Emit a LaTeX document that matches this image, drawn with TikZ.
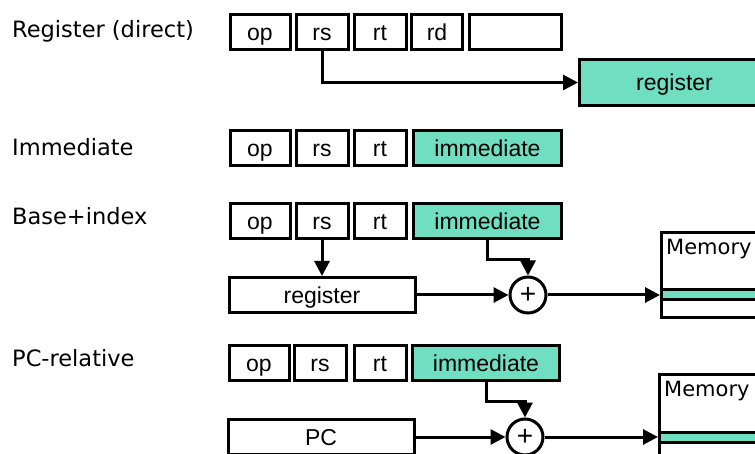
\documentclass[tikz,border=0pt]{standalone}
\usepackage{fontspec}
\usepackage{tikz}
\usetikzlibrary{arrows.meta}
\newfontfamily\arialfont{Liberation Sans}
\newfontfamily\handfont{DejaVu Sans}
\definecolor{aqua}{RGB}{112,222,192}
\tikzset{
	fld/.style={draw, line width=3pt, minimum height=35pt, inner sep=0pt, text height=19pt, text depth=2pt, font=\arialfont\fontsize{23}{26}\selectfont},
	hfld/.style={fld, fill=aqua},
	lbl/.style={anchor=west, inner sep=0pt, font=\handfont\fontsize{22.5}{26}\selectfont},
	memlbl/.style={lbl, font=\handfont\fontsize{21}{24}\selectfont},
	wire/.style={line width=3pt, -{Triangle[length=15pt,width=15pt]}},
	adder/.style={draw, circle, line width=3pt, minimum size=36pt, inner sep=0pt, font=\arialfont\fontsize{28}{30}\selectfont},
	membox/.style={draw, line width=3pt, anchor=north west, minimum width=140pt, minimum height=85pt, inner sep=0pt},
	slot/.style={draw, fill=aqua, line width=3pt, anchor=west, minimum width=140pt, minimum height=10pt, inner sep=0pt},
}
\begin{document}
\begin{tikzpicture}[x=1pt, y=-1pt]
				\clip (0,0) rectangle (755,454);
				% register (direct)
				\node[lbl] (l1) at (12,31) {Register (direct)};
				\node[fld, minimum width=60pt] (op1) at (260,32) {op};
				\node[fld, minimum width=52pt] (rs1) at (322,32) {rs};
				\node[fld, minimum width=52pt] (rt1) at (380,32) {rt};
				\node[fld, minimum width=51pt] (rd1) at (437,32) {rd};
				\node[fld, minimum width=92pt] (sh1) at (515.5,32) {};
				\node[hfld, anchor=west, minimum width=190pt, minimum height=46pt] (reg1) at (578,82.5) {register};
				\draw[wire] (rs1.south) |- (reg1.west);
				% immediate
				\node[lbl] (l2) at (12,147) {Immediate};
				\node[fld, minimum width=60pt] (op2) at (260,148.5) {op};
				\node[fld, minimum width=52pt] (rs2) at (322,148.5) {rs};
				\node[fld, minimum width=52pt] (rt2) at (380,148.5) {rt};
				\node[hfld, minimum width=148pt] (imm2) at (487.5,148.5) {immediate};
				% base+index
				\node[lbl] (l3) at (12,216) {Base+index};
				\node[fld, minimum width=60pt] (op3) at (260,221.5) {op};
				\node[fld, minimum width=52pt] (rs3) at (322,221.5) {rs};
				\node[fld, minimum width=52pt] (rt3) at (380,221.5) {rt};
				\node[hfld, minimum width=148pt] (imm3) at (487.5,221.5) {immediate};
				\node[fld, minimum width=186pt] (reg3) at (322,295) {register};
				\node[adder] (add3) at (528,295) {+};
				\node[membox] (mem3) at (660,231) {};
				\node[slot] (slot3) at (660,295) {};
				\node[memlbl] (m3) at (666,249) {Memory};
				\draw[wire] (rs3.south) -- (reg3.north);
				\draw[wire] (imm3.south) -- ++(0,19) -| (add3.north);
				\draw[wire] (reg3.east) -- (add3.west);
				\draw[wire] (add3.east) -- (slot3.west);
				% pc-relative
				\node[lbl] (l4) at (12,358) {PC-relative};
				\node[fld, minimum width=60pt] (op4) at (259,363) {op};
				\node[fld, minimum width=52pt] (rs4) at (320,363) {rs};
				\node[fld, minimum width=52pt] (rt4) at (380,363) {rt};
				\node[hfld, minimum width=147pt] (imm4) at (486,363) {immediate};
				\node[fld, minimum width=186pt] (pc4) at (321,437) {PC};
				\node[adder] (add4) at (525,437) {+};
				\node[membox] (mem4) at (658,373) {};
				\node[slot] (slot4) at (658,437) {};
				\node[memlbl] (m4) at (664,391) {Memory};
				\draw[wire] (imm4.south) -- ++(0,19) -| (add4.north);
				\draw[wire] (pc4.east) -- (add4.west);
				\draw[wire] (add4.east) -- (slot4.west);
\end{tikzpicture}
\end{document}
